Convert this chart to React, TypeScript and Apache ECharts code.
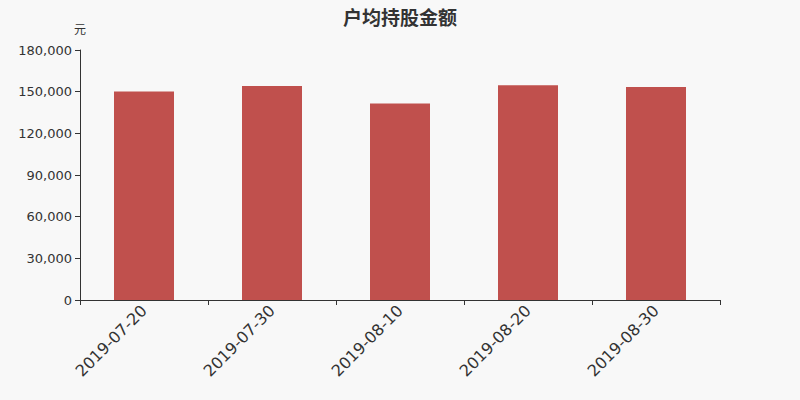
import React, { useEffect, useRef } from "react";
import * as echarts from "echarts";

const categories = ["2019-07-20", "2019-07-30", "2019-08-10", "2019-08-20", "2019-08-30"];
const values = [150100, 154000, 141500, 154700, 153400];
const titleText = "户均持股金额";
const unitText = "元";

export default function App() {
  const ref = useRef<HTMLDivElement>(null);
  useEffect(() => {
    if (!ref.current) return;
    const chart = echarts.init(ref.current, undefined, { renderer: "svg" });
    chart.setOption({
      animation: false,
      backgroundColor: "#f8f8f8",
      title: {
        text: titleText,
        left: "center",
        top: 2,
        textStyle: {
          fontFamily: "Noto Sans CJK SC",
          fontSize: 19,
          fontWeight: "bold",
          color: "#333",
        },
      },
      grid: { left: 80, right: 80, top: 50, bottom: 100 },
      xAxis: {
        type: "category",
        data: categories,
        axisLine: { lineStyle: { color: "#333" } },
        axisTick: { show: true, alignWithLabel: false, lineStyle: { color: "#333" } },
        axisLabel: {
          rotate: 45,
          fontSize: 16,
          color: "#333",
          fontFamily: "DejaVu Sans",
          margin: 8,
        },
      },
      yAxis: {
        type: "value",
        min: 0,
        max: 180000,
        interval: 30000,
        name: unitText,
        nameGap: 16,
        nameTextStyle: { color: "#333", fontSize: 12, fontFamily: "Noto Sans CJK SC", align: "center" },
        axisLine: { show: true, lineStyle: { color: "#333" } },
        axisTick: { show: true, lineStyle: { color: "#333" } },
        splitLine: { show: false },
        axisLabel: {
          fontSize: 13,
          color: "#333",
          fontFamily: "DejaVu Sans",
          formatter: (v: number) => v.toLocaleString("en-US"),
        },
      },
      series: [
        {
          type: "bar",
          data: values,
          barWidth: 60,
          itemStyle: { color: "#c0504d" },
        },
      ],
    });
    return () => chart.dispose();
  }, []);
  return <div ref={ref} style={{ width: 800, height: 400, position: "absolute", left: 0, top: 0 }} />;
}
